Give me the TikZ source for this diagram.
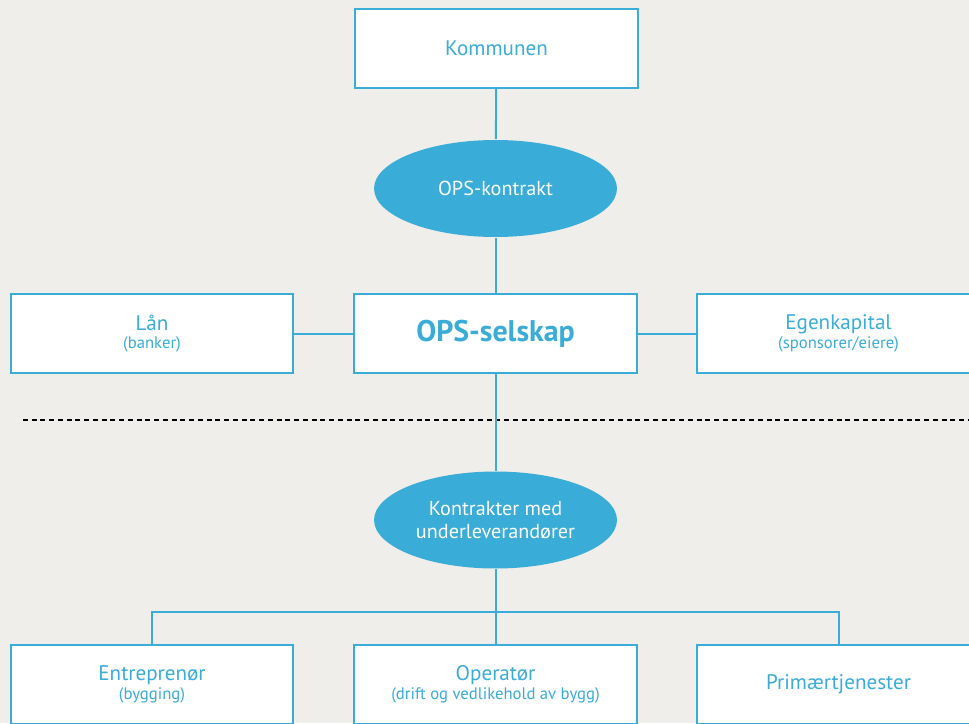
\documentclass[tikz,border=0pt]{standalone}
\usepackage{fontspec}
\setmainfont{PT Sans}
\usepackage{tikz}
\usetikzlibrary{shapes.geometric}
\definecolor{opsblue}{HTML}{3AACD8}
\definecolor{paper}{HTML}{EFEEEA}
\newcommand{\sub}[1]{{\fontsize{9.5}{11}\selectfont #1}}
\tikzstyle{plain box}=[
        draw = opsblue,
        line width = 0.04cm,
        fill = white,
        text = opsblue,
        minimum width = 5.66cm,
        minimum height = 1.58cm,
        align = center,
        font = \fontsize{12}{10.5}\selectfont
    ]
\tikzstyle{filled oval}=[
    ellipse,
    fill = opsblue,
    text = white,
    inner sep = 0pt,
    minimum width = 4.86cm,
    minimum height = 1.94cm,
    align = center,
    font = \fontsize{11.5}{13.5}\selectfont
]

\begin{document}
\begin{tikzpicture}[x=0.02cm, y=-0.02cm, line width=0.04cm]
        \useasboundingbox (0,0) rectangle (969,723);
        \clip (0,0) rectangle (969,723);
        \fill[paper] (0,0) rectangle (969,723);

        \node[plain box] (kom) at (496.5,48.5) {Kommunen};
        \node[filled oval] (ops) at (495.5,188.5) {OPS-kontrakt};
        \node[plain box] (laan) at (152,333.5) {Lån\\\sub{(banker)}};
        \node[plain box, font=\fontsize{17}{17}\selectfont\bfseries] (sel) at (495.5,333.5) {OPS-selskap};
        \node[plain box] (egen) at (838.5,333.5) {Egenkapital\\\sub{(sponsorer/eiere)}};
        \node[filled oval] (under) at (495.5,520) {Kontrakter med\\underleverandører};
        \node[plain box] (ent) at (152,684.5) {Entreprenør\\\sub{(bygging)}};
        \node[plain box] (oper) at (495.5,684.5) {Operatør\\\sub{(drift og vedlikehold av bygg)}};
        \node[plain box] (prim) at (838.5,684.5) {Primærtjenester};

        \coordinate (dl) at (23,420);
        \coordinate (dr) at (969,420);
        \coordinate (bus) at (495.5,612);

        % skillelinje
        \draw[black, dash pattern=on 0.1cm off 0.075cm] (dl) -- (dr);

        \draw[opsblue] (kom) -- (ops);
        \draw[opsblue] (ops) -- (sel);
        \draw[opsblue] (laan) -- (sel);
        \draw[opsblue] (sel) -- (egen);
        \draw[opsblue] (sel) -- (under);
        \draw[opsblue] (under) -- (oper);
        \draw[opsblue] (ent.north) |- (bus) -| (prim.north);

    \end{tikzpicture}
\end{document}
